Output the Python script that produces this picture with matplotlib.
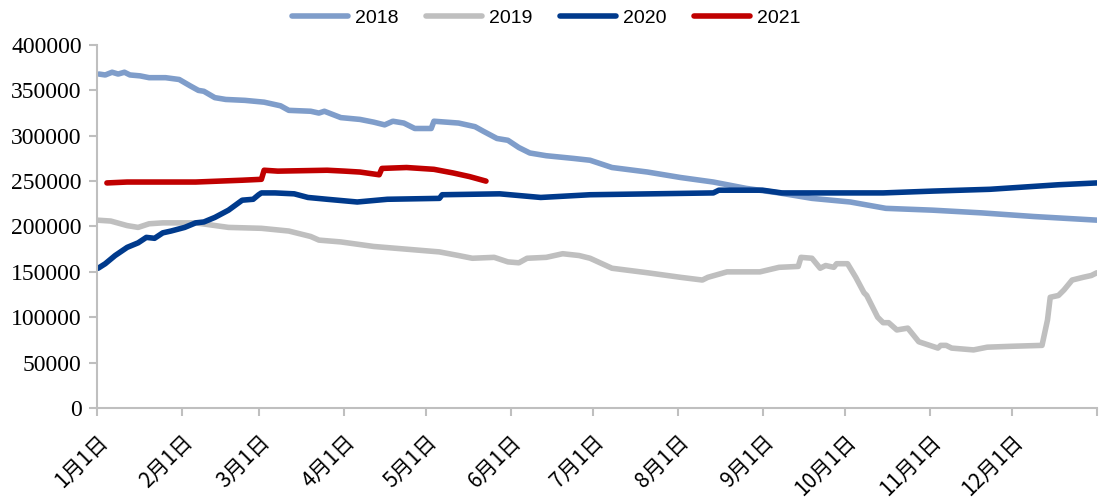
import matplotlib
matplotlib.use("Agg")
import matplotlib.pyplot as plt
from matplotlib import font_manager

# ---- data: day of year (0 = Jan 1) and inventory values ----
days_2018 = [0.7, 3, 5.5, 7.7, 10, 12, 15.7, 19, 25, 30, 34, 37, 39, 43, 47, 54, 61, 67, 70, 78,
             81, 83, 89, 96, 101, 105, 108, 112, 116, 122, 123, 132, 138, 141, 146, 150, 154, 158,
             164, 174, 180, 188, 201, 213, 225, 237, 249, 261, 275, 288, 305, 323, 342, 365]
vals_2018 = [368000, 367000, 370000, 368000, 370000, 367000, 366000, 364000, 364000, 362000,
             355000, 350000, 349000, 342000, 340000, 339000, 337000, 333000, 328000, 327000,
             325000, 327000, 320000, 318000, 315000, 312000, 316000, 314000, 308000, 308000,
             316000, 314000, 310000, 305000, 297000, 295000, 287000, 281000, 278000, 275000,
             273000, 265000, 260000, 254000, 249000, 242000, 237000, 231000, 227000, 220000,
             218000, 215000, 211000, 207000]

days_2019 = [0, 5, 11, 15, 19, 24, 36, 48, 60, 70, 78, 81, 89, 101, 113, 125, 132, 137, 145, 150,
             154, 157, 164, 170, 176, 180, 188, 201, 213, 221, 223, 230, 242, 249, 256, 257, 261,
             264, 266, 269, 270, 274, 277, 280, 281, 285, 287, 289, 292, 296, 300, 307, 308, 310,
             312, 320, 325, 334, 345, 347, 348, 351, 353, 356, 360, 363, 365]
vals_2019 = [207000, 206000, 201000, 199000, 203000, 204000, 204000, 199000, 198000, 195000,
             189000, 185000, 183000, 178000, 175000, 172000, 168000, 165000, 166000, 161000,
             160000, 165000, 166000, 170000, 168000, 165000, 154000, 149000, 144000, 141000,
             144000, 150000, 150000, 155000, 156000, 166000, 165000, 154000, 157000, 155000,
             159000, 159000, 144000, 127000, 124000, 100000, 94000, 94000, 86000, 88000,
             73000, 66000, 69000, 69000, 66000, 64000, 67000, 68000, 69000, 97000, 122000,
             124000, 130000, 141000, 144000, 146000, 149000]

days_2020 = [0.4, 3, 6.6, 11, 15, 18, 21, 24, 27, 32, 36, 39, 43, 48, 53, 57, 59, 60, 65, 72, 77,
             84, 95, 106, 125, 126, 147, 162, 180, 225, 227, 243, 250, 287, 305, 326, 336, 351, 365]
vals_2020 = [154000, 159000, 168000, 177000, 182000, 188000, 187000, 193000, 195000, 199000,
             204000, 205000, 210000, 218000, 229000, 230000, 235000, 237000, 237000, 236000,
             232000, 230000, 227000, 230000, 231000, 235000, 236000, 232000, 235000, 237000,
             240000, 240000, 237000, 237000, 239000, 241000, 243000, 246000, 248000]

days_2021 = [3.6, 11, 36, 53, 60, 61, 66, 84, 90.5, 96, 103, 104, 113, 123, 130, 136, 142]
vals_2021 = [248000, 249000, 249000, 251000, 252000, 262000, 261000, 262000, 261000, 260000,
             257000, 264000, 265000, 263000, 259000, 255000, 250000]

month_starts = [0, 31, 59, 90, 120, 151, 181, 212, 243, 273, 304, 334]
month_labels = ["1月1日", "2月1日", "3月1日", "4月1日", "5月1日", "6月1日",
                "7月1日", "8月1日", "9月1日", "10月1日", "11月1日", "12月1日"]
y_ticks = [0, 50000, 100000, 150000, 200000, 250000, 300000, 350000, 400000]

series = [("2018", days_2018, vals_2018, "#7f9dca"),
          ("2019", days_2019, vals_2019, "#bfbfbf"),
          ("2020", days_2020, vals_2020, "#003a8c"),
          ("2021", days_2021, vals_2021, "#c00000")]

# ---- figure ----
fig = plt.figure(figsize=(10.99, 5.04), dpi=100)
ax = fig.add_axes([0.0883, 0.1905, 0.9097, 0.7202])

for name, d, v, c in series:
    ax.plot(d, v, color=c, lw=4.0, label=name, solid_capstyle="round", solid_joinstyle="round")

ax.set_xlim(0, 365)
ax.set_ylim(0, 400000)

for s in ["top", "right"]:
    ax.spines[s].set_visible(False)
for s in ["left", "bottom"]:
    ax.spines[s].set_color("#bfbfbf")
    ax.spines[s].set_linewidth(1.5)

ax.tick_params(axis="x", direction="out", length=6, width=1.5, color="#bfbfbf", pad=10)
ax.tick_params(axis="y", direction="out", length=6, width=1.5, color="#bfbfbf", pad=5)

ax.set_xticks(month_starts + [365])
ax.set_xticklabels(month_labels + [""])
ax.set_yticks(y_ticks)
ax.set_yticklabels([str(v) for v in y_ticks])

cjk_fp = font_manager.FontProperties(family=["Noto Sans CJK SC", "DejaVu Sans"], size=15)
serif_fp = font_manager.FontProperties(family="Liberation Serif", size=17)
for lab in ax.get_xticklabels():
    lab.set_fontproperties(cjk_fp)
    lab.set_rotation(45)
    lab.set_rotation_mode("anchor")
    lab.set_ha("right")
    lab.set_va("top")
for lab in ax.get_yticklabels():
    lab.set_fontproperties(serif_fp)

leg = fig.legend(loc="center", bbox_to_anchor=(0.497, 0.964), ncol=4, frameon=False,
                 prop={"family": "Liberation Sans", "size": 14},
                 handlelength=2.9, handletextpad=0.35, columnspacing=1.4)
for line in leg.get_lines():
    line.set_linewidth(4)

fig.savefig("out.png", dpi=100)
